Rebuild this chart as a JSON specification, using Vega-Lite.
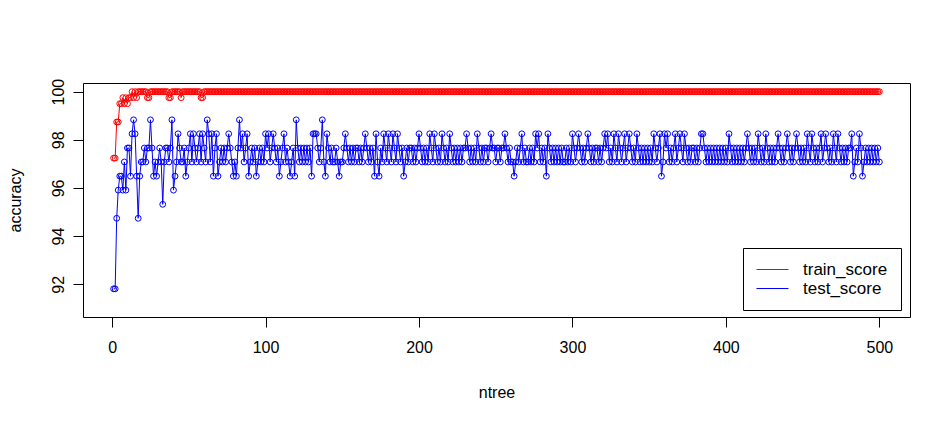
{
  "$schema": "https://vega.github.io/schema/vega-lite/v6.json",
  "width": 827,
  "height": 234,
  "autosize": "none",
  "padding": {"left": 83, "top": 83, "right": 42, "bottom": 104},
  "background": "white",
  "config": {
    "view": {"stroke": "black", "strokeWidth": 1},
    "font": "Liberation Sans",
    "axis": {
      "domain": false,
      "grid": false,
      "ticks": true,
      "tickSize": 10,
      "tickColor": "black",
      "tickWidth": 1,
      "labelFontSize": 16,
      "labelColor": "black",
      "titleFontSize": 16,
      "titleFontWeight": "normal",
      "titleColor": "black"
    }
  },
  "data": {
    "values": [
      {"ntree":1,"train_score":97.24,"test_score":91.81},
      {"ntree":2,"train_score":97.24,"test_score":91.81},
      {"ntree":3,"train_score":98.74,"test_score":94.74},
      {"ntree":4,"train_score":98.74,"test_score":95.91},
      {"ntree":5,"train_score":99.5,"test_score":96.49},
      {"ntree":6,"train_score":99.5,"test_score":96.49},
      {"ntree":7,"train_score":99.75,"test_score":95.91},
      {"ntree":8,"train_score":99.5,"test_score":97.08},
      {"ntree":9,"train_score":99.75,"test_score":95.91},
      {"ntree":10,"train_score":99.5,"test_score":97.66},
      {"ntree":11,"train_score":99.75,"test_score":97.66},
      {"ntree":12,"train_score":99.75,"test_score":96.49},
      {"ntree":13,"train_score":100,"test_score":98.25},
      {"ntree":14,"train_score":99.75,"test_score":98.83},
      {"ntree":15,"train_score":100,"test_score":98.25},
      {"ntree":16,"train_score":99.75,"test_score":96.49},
      {"ntree":17,"train_score":100,"test_score":94.74},
      {"ntree":18,"train_score":100,"test_score":96.49},
      {"ntree":19,"train_score":100,"test_score":97.08},
      {"ntree":20,"train_score":100,"test_score":97.08},
      {"ntree":21,"train_score":100,"test_score":97.66},
      {"ntree":22,"train_score":100,"test_score":97.08},
      {"ntree":23,"train_score":99.75,"test_score":97.66},
      {"ntree":24,"train_score":99.75,"test_score":97.66},
      {"ntree":25,"train_score":100,"test_score":98.83},
      {"ntree":26,"train_score":100,"test_score":97.66},
      {"ntree":27,"train_score":100,"test_score":96.49},
      {"ntree":28,"train_score":100,"test_score":97.08},
      {"ntree":29,"train_score":100,"test_score":96.49},
      {"ntree":30,"train_score":100,"test_score":97.08},
      {"ntree":31,"train_score":100,"test_score":97.66},
      {"ntree":32,"train_score":100,"test_score":97.08},
      {"ntree":33,"train_score":100,"test_score":95.32},
      {"ntree":34,"train_score":100,"test_score":97.08},
      {"ntree":35,"train_score":100,"test_score":97.66},
      {"ntree":36,"train_score":100,"test_score":97.66},
      {"ntree":37,"train_score":99.75,"test_score":97.08},
      {"ntree":38,"train_score":99.75,"test_score":97.66},
      {"ntree":39,"train_score":100,"test_score":98.83},
      {"ntree":40,"train_score":100,"test_score":95.91},
      {"ntree":41,"train_score":100,"test_score":96.49},
      {"ntree":42,"train_score":100,"test_score":97.08},
      {"ntree":43,"train_score":100,"test_score":98.25},
      {"ntree":44,"train_score":100,"test_score":97.66},
      {"ntree":45,"train_score":99.75,"test_score":97.08},
      {"ntree":46,"train_score":100,"test_score":97.08},
      {"ntree":47,"train_score":100,"test_score":97.66},
      {"ntree":48,"train_score":100,"test_score":96.49},
      {"ntree":49,"train_score":100,"test_score":97.08},
      {"ntree":50,"train_score":100,"test_score":97.66},
      {"ntree":51,"train_score":100,"test_score":98.25},
      {"ntree":52,"train_score":100,"test_score":97.08},
      {"ntree":53,"train_score":100,"test_score":98.25},
      {"ntree":54,"train_score":100,"test_score":97.66},
      {"ntree":55,"train_score":100,"test_score":97.08},
      {"ntree":56,"train_score":100,"test_score":97.66},
      {"ntree":57,"train_score":100,"test_score":98.25},
      {"ntree":58,"train_score":99.75,"test_score":97.08},
      {"ntree":59,"train_score":99.75,"test_score":98.25},
      {"ntree":60,"train_score":100,"test_score":97.66},
      {"ntree":61,"train_score":100,"test_score":97.08},
      {"ntree":62,"train_score":100,"test_score":98.83},
      {"ntree":63,"train_score":100,"test_score":98.25},
      {"ntree":64,"train_score":100,"test_score":97.08},
      {"ntree":65,"train_score":100,"test_score":98.25},
      {"ntree":66,"train_score":100,"test_score":96.49},
      {"ntree":67,"train_score":100,"test_score":97.66},
      {"ntree":68,"train_score":100,"test_score":98.25},
      {"ntree":69,"train_score":100,"test_score":96.49},
      {"ntree":70,"train_score":100,"test_score":97.08},
      {"ntree":71,"train_score":100,"test_score":97.66},
      {"ntree":72,"train_score":100,"test_score":97.08},
      {"ntree":73,"train_score":100,"test_score":97.66},
      {"ntree":74,"train_score":100,"test_score":97.08},
      {"ntree":75,"train_score":100,"test_score":97.66},
      {"ntree":76,"train_score":100,"test_score":98.25},
      {"ntree":77,"train_score":100,"test_score":97.66},
      {"ntree":78,"train_score":100,"test_score":97.08},
      {"ntree":79,"train_score":100,"test_score":96.49},
      {"ntree":80,"train_score":100,"test_score":97.08},
      {"ntree":81,"train_score":100,"test_score":96.49},
      {"ntree":82,"train_score":100,"test_score":97.66},
      {"ntree":83,"train_score":100,"test_score":98.83},
      {"ntree":84,"train_score":100,"test_score":97.66},
      {"ntree":85,"train_score":100,"test_score":98.25},
      {"ntree":86,"train_score":100,"test_score":97.08},
      {"ntree":87,"train_score":100,"test_score":97.66},
      {"ntree":88,"train_score":100,"test_score":98.25},
      {"ntree":89,"train_score":100,"test_score":96.49},
      {"ntree":90,"train_score":100,"test_score":97.08},
      {"ntree":91,"train_score":100,"test_score":97.66},
      {"ntree":92,"train_score":100,"test_score":97.08},
      {"ntree":93,"train_score":100,"test_score":97.66},
      {"ntree":94,"train_score":100,"test_score":96.49},
      {"ntree":95,"train_score":100,"test_score":97.08},
      {"ntree":96,"train_score":100,"test_score":97.66},
      {"ntree":97,"train_score":100,"test_score":97.08},
      {"ntree":98,"train_score":100,"test_score":97.66},
      {"ntree":99,"train_score":100,"test_score":97.08},
      {"ntree":100,"train_score":100,"test_score":98.25},
      {"ntree":101,"train_score":100,"test_score":97.66},
      {"ntree":102,"train_score":100,"test_score":98.25},
      {"ntree":103,"train_score":100,"test_score":97.08},
      {"ntree":104,"train_score":100,"test_score":97.66},
      {"ntree":105,"train_score":100,"test_score":98.25},
      {"ntree":106,"train_score":100,"test_score":97.66},
      {"ntree":107,"train_score":100,"test_score":97.08},
      {"ntree":108,"train_score":100,"test_score":97.66},
      {"ntree":109,"train_score":100,"test_score":96.49},
      {"ntree":110,"train_score":100,"test_score":97.08},
      {"ntree":111,"train_score":100,"test_score":97.66},
      {"ntree":112,"train_score":100,"test_score":98.25},
      {"ntree":113,"train_score":100,"test_score":97.08},
      {"ntree":114,"train_score":100,"test_score":97.66},
      {"ntree":115,"train_score":100,"test_score":97.08},
      {"ntree":116,"train_score":100,"test_score":96.49},
      {"ntree":117,"train_score":100,"test_score":97.08},
      {"ntree":118,"train_score":100,"test_score":97.66},
      {"ntree":119,"train_score":100,"test_score":96.49},
      {"ntree":120,"train_score":100,"test_score":98.83},
      {"ntree":121,"train_score":100,"test_score":97.66},
      {"ntree":122,"train_score":100,"test_score":97.08},
      {"ntree":123,"train_score":100,"test_score":97.66},
      {"ntree":124,"train_score":100,"test_score":97.08},
      {"ntree":125,"train_score":100,"test_score":97.66},
      {"ntree":126,"train_score":100,"test_score":97.08},
      {"ntree":127,"train_score":100,"test_score":97.66},
      {"ntree":128,"train_score":100,"test_score":97.08},
      {"ntree":129,"train_score":100,"test_score":97.66},
      {"ntree":130,"train_score":100,"test_score":96.49},
      {"ntree":131,"train_score":100,"test_score":98.25},
      {"ntree":132,"train_score":100,"test_score":98.25},
      {"ntree":133,"train_score":100,"test_score":98.25},
      {"ntree":134,"train_score":100,"test_score":97.66},
      {"ntree":135,"train_score":100,"test_score":97.08},
      {"ntree":136,"train_score":100,"test_score":97.66},
      {"ntree":137,"train_score":100,"test_score":98.83},
      {"ntree":138,"train_score":100,"test_score":97.08},
      {"ntree":139,"train_score":100,"test_score":96.49},
      {"ntree":140,"train_score":100,"test_score":98.25},
      {"ntree":141,"train_score":100,"test_score":97.66},
      {"ntree":142,"train_score":100,"test_score":97.08},
      {"ntree":143,"train_score":100,"test_score":97.66},
      {"ntree":144,"train_score":100,"test_score":97.08},
      {"ntree":145,"train_score":100,"test_score":97.08},
      {"ntree":146,"train_score":100,"test_score":97.66},
      {"ntree":147,"train_score":100,"test_score":97.08},
      {"ntree":148,"train_score":100,"test_score":96.49},
      {"ntree":149,"train_score":100,"test_score":97.08},
      {"ntree":150,"train_score":100,"test_score":97.08},
      {"ntree":151,"train_score":100,"test_score":97.66},
      {"ntree":152,"train_score":100,"test_score":98.25},
      {"ntree":153,"train_score":100,"test_score":97.66},
      {"ntree":154,"train_score":100,"test_score":97.08},
      {"ntree":155,"train_score":100,"test_score":97.66},
      {"ntree":156,"train_score":100,"test_score":97.08},
      {"ntree":157,"train_score":100,"test_score":97.66},
      {"ntree":158,"train_score":100,"test_score":97.08},
      {"ntree":159,"train_score":100,"test_score":97.66},
      {"ntree":160,"train_score":100,"test_score":97.66},
      {"ntree":161,"train_score":100,"test_score":97.08},
      {"ntree":162,"train_score":100,"test_score":97.66},
      {"ntree":163,"train_score":100,"test_score":97.08},
      {"ntree":164,"train_score":100,"test_score":97.66},
      {"ntree":165,"train_score":100,"test_score":98.25},
      {"ntree":166,"train_score":100,"test_score":97.66},
      {"ntree":167,"train_score":100,"test_score":97.08},
      {"ntree":168,"train_score":100,"test_score":97.66},
      {"ntree":169,"train_score":100,"test_score":97.08},
      {"ntree":170,"train_score":100,"test_score":97.66},
      {"ntree":171,"train_score":100,"test_score":96.49},
      {"ntree":172,"train_score":100,"test_score":98.25},
      {"ntree":173,"train_score":100,"test_score":97.08},
      {"ntree":174,"train_score":100,"test_score":96.49},
      {"ntree":175,"train_score":100,"test_score":97.66},
      {"ntree":176,"train_score":100,"test_score":97.08},
      {"ntree":177,"train_score":100,"test_score":98.25},
      {"ntree":178,"train_score":100,"test_score":97.66},
      {"ntree":179,"train_score":100,"test_score":97.08},
      {"ntree":180,"train_score":100,"test_score":98.25},
      {"ntree":181,"train_score":100,"test_score":97.66},
      {"ntree":182,"train_score":100,"test_score":97.08},
      {"ntree":183,"train_score":100,"test_score":98.25},
      {"ntree":184,"train_score":100,"test_score":97.66},
      {"ntree":185,"train_score":100,"test_score":97.08},
      {"ntree":186,"train_score":100,"test_score":98.25},
      {"ntree":187,"train_score":100,"test_score":97.66},
      {"ntree":188,"train_score":100,"test_score":97.08},
      {"ntree":189,"train_score":100,"test_score":97.66},
      {"ntree":190,"train_score":100,"test_score":96.49},
      {"ntree":191,"train_score":100,"test_score":97.08},
      {"ntree":192,"train_score":100,"test_score":97.66},
      {"ntree":193,"train_score":100,"test_score":97.08},
      {"ntree":194,"train_score":100,"test_score":97.66},
      {"ntree":195,"train_score":100,"test_score":97.66},
      {"ntree":196,"train_score":100,"test_score":97.08},
      {"ntree":197,"train_score":100,"test_score":97.66},
      {"ntree":198,"train_score":100,"test_score":97.08},
      {"ntree":199,"train_score":100,"test_score":97.66},
      {"ntree":200,"train_score":100,"test_score":98.25},
      {"ntree":201,"train_score":100,"test_score":97.66},
      {"ntree":202,"train_score":100,"test_score":97.08},
      {"ntree":203,"train_score":100,"test_score":97.66},
      {"ntree":204,"train_score":100,"test_score":97.08},
      {"ntree":205,"train_score":100,"test_score":97.66},
      {"ntree":206,"train_score":100,"test_score":97.08},
      {"ntree":207,"train_score":100,"test_score":98.25},
      {"ntree":208,"train_score":100,"test_score":97.66},
      {"ntree":209,"train_score":100,"test_score":97.08},
      {"ntree":210,"train_score":100,"test_score":98.25},
      {"ntree":211,"train_score":100,"test_score":97.66},
      {"ntree":212,"train_score":100,"test_score":97.08},
      {"ntree":213,"train_score":100,"test_score":97.66},
      {"ntree":214,"train_score":100,"test_score":97.08},
      {"ntree":215,"train_score":100,"test_score":98.25},
      {"ntree":216,"train_score":100,"test_score":97.66},
      {"ntree":217,"train_score":100,"test_score":97.08},
      {"ntree":218,"train_score":100,"test_score":97.66},
      {"ntree":219,"train_score":100,"test_score":97.08},
      {"ntree":220,"train_score":100,"test_score":98.25},
      {"ntree":221,"train_score":100,"test_score":97.66},
      {"ntree":222,"train_score":100,"test_score":97.08},
      {"ntree":223,"train_score":100,"test_score":97.66},
      {"ntree":224,"train_score":100,"test_score":97.08},
      {"ntree":225,"train_score":100,"test_score":97.66},
      {"ntree":226,"train_score":100,"test_score":97.08},
      {"ntree":227,"train_score":100,"test_score":97.66},
      {"ntree":228,"train_score":100,"test_score":97.08},
      {"ntree":229,"train_score":100,"test_score":97.66},
      {"ntree":230,"train_score":100,"test_score":97.66},
      {"ntree":231,"train_score":100,"test_score":98.25},
      {"ntree":232,"train_score":100,"test_score":97.66},
      {"ntree":233,"train_score":100,"test_score":97.08},
      {"ntree":234,"train_score":100,"test_score":97.66},
      {"ntree":235,"train_score":100,"test_score":97.08},
      {"ntree":236,"train_score":100,"test_score":97.66},
      {"ntree":237,"train_score":100,"test_score":97.08},
      {"ntree":238,"train_score":100,"test_score":98.25},
      {"ntree":239,"train_score":100,"test_score":97.66},
      {"ntree":240,"train_score":100,"test_score":97.08},
      {"ntree":241,"train_score":100,"test_score":97.66},
      {"ntree":242,"train_score":100,"test_score":97.08},
      {"ntree":243,"train_score":100,"test_score":97.66},
      {"ntree":244,"train_score":100,"test_score":97.66},
      {"ntree":245,"train_score":100,"test_score":97.08},
      {"ntree":246,"train_score":100,"test_score":97.66},
      {"ntree":247,"train_score":100,"test_score":98.25},
      {"ntree":248,"train_score":100,"test_score":97.66},
      {"ntree":249,"train_score":100,"test_score":97.66},
      {"ntree":250,"train_score":100,"test_score":97.08},
      {"ntree":251,"train_score":100,"test_score":97.66},
      {"ntree":252,"train_score":100,"test_score":97.66},
      {"ntree":253,"train_score":100,"test_score":97.08},
      {"ntree":254,"train_score":100,"test_score":97.66},
      {"ntree":255,"train_score":100,"test_score":97.66},
      {"ntree":256,"train_score":100,"test_score":98.25},
      {"ntree":257,"train_score":100,"test_score":97.66},
      {"ntree":258,"train_score":100,"test_score":97.08},
      {"ntree":259,"train_score":100,"test_score":97.66},
      {"ntree":260,"train_score":100,"test_score":97.08},
      {"ntree":261,"train_score":100,"test_score":97.08},
      {"ntree":262,"train_score":100,"test_score":96.49},
      {"ntree":263,"train_score":100,"test_score":97.08},
      {"ntree":264,"train_score":100,"test_score":97.66},
      {"ntree":265,"train_score":100,"test_score":97.08},
      {"ntree":266,"train_score":100,"test_score":97.66},
      {"ntree":267,"train_score":100,"test_score":98.25},
      {"ntree":268,"train_score":100,"test_score":97.08},
      {"ntree":269,"train_score":100,"test_score":97.66},
      {"ntree":270,"train_score":100,"test_score":97.08},
      {"ntree":271,"train_score":100,"test_score":97.08},
      {"ntree":272,"train_score":100,"test_score":97.66},
      {"ntree":273,"train_score":100,"test_score":97.08},
      {"ntree":274,"train_score":100,"test_score":97.66},
      {"ntree":275,"train_score":100,"test_score":97.08},
      {"ntree":276,"train_score":100,"test_score":98.25},
      {"ntree":277,"train_score":100,"test_score":97.66},
      {"ntree":278,"train_score":100,"test_score":98.25},
      {"ntree":279,"train_score":100,"test_score":97.08},
      {"ntree":280,"train_score":100,"test_score":97.66},
      {"ntree":281,"train_score":100,"test_score":97.08},
      {"ntree":282,"train_score":100,"test_score":97.66},
      {"ntree":283,"train_score":100,"test_score":96.49},
      {"ntree":284,"train_score":100,"test_score":98.25},
      {"ntree":285,"train_score":100,"test_score":97.66},
      {"ntree":286,"train_score":100,"test_score":97.08},
      {"ntree":287,"train_score":100,"test_score":97.66},
      {"ntree":288,"train_score":100,"test_score":97.08},
      {"ntree":289,"train_score":100,"test_score":97.66},
      {"ntree":290,"train_score":100,"test_score":97.08},
      {"ntree":291,"train_score":100,"test_score":97.66},
      {"ntree":292,"train_score":100,"test_score":97.08},
      {"ntree":293,"train_score":100,"test_score":97.66},
      {"ntree":294,"train_score":100,"test_score":97.08},
      {"ntree":295,"train_score":100,"test_score":97.08},
      {"ntree":296,"train_score":100,"test_score":97.66},
      {"ntree":297,"train_score":100,"test_score":97.08},
      {"ntree":298,"train_score":100,"test_score":97.66},
      {"ntree":299,"train_score":100,"test_score":97.08},
      {"ntree":300,"train_score":100,"test_score":98.25},
      {"ntree":301,"train_score":100,"test_score":97.66},
      {"ntree":302,"train_score":100,"test_score":97.08},
      {"ntree":303,"train_score":100,"test_score":97.66},
      {"ntree":304,"train_score":100,"test_score":98.25},
      {"ntree":305,"train_score":100,"test_score":97.66},
      {"ntree":306,"train_score":100,"test_score":97.08},
      {"ntree":307,"train_score":100,"test_score":97.66},
      {"ntree":308,"train_score":100,"test_score":97.08},
      {"ntree":309,"train_score":100,"test_score":97.66},
      {"ntree":310,"train_score":100,"test_score":98.25},
      {"ntree":311,"train_score":100,"test_score":97.66},
      {"ntree":312,"train_score":100,"test_score":97.08},
      {"ntree":313,"train_score":100,"test_score":97.66},
      {"ntree":314,"train_score":100,"test_score":97.08},
      {"ntree":315,"train_score":100,"test_score":97.66},
      {"ntree":316,"train_score":100,"test_score":97.66},
      {"ntree":317,"train_score":100,"test_score":97.08},
      {"ntree":318,"train_score":100,"test_score":97.66},
      {"ntree":319,"train_score":100,"test_score":97.08},
      {"ntree":320,"train_score":100,"test_score":97.66},
      {"ntree":321,"train_score":100,"test_score":98.25},
      {"ntree":322,"train_score":100,"test_score":97.66},
      {"ntree":323,"train_score":100,"test_score":98.25},
      {"ntree":324,"train_score":100,"test_score":97.08},
      {"ntree":325,"train_score":100,"test_score":97.66},
      {"ntree":326,"train_score":100,"test_score":97.08},
      {"ntree":327,"train_score":100,"test_score":98.25},
      {"ntree":328,"train_score":100,"test_score":97.66},
      {"ntree":329,"train_score":100,"test_score":97.08},
      {"ntree":330,"train_score":100,"test_score":98.25},
      {"ntree":331,"train_score":100,"test_score":97.66},
      {"ntree":332,"train_score":100,"test_score":97.08},
      {"ntree":333,"train_score":100,"test_score":97.66},
      {"ntree":334,"train_score":100,"test_score":98.25},
      {"ntree":335,"train_score":100,"test_score":97.08},
      {"ntree":336,"train_score":100,"test_score":97.66},
      {"ntree":337,"train_score":100,"test_score":98.25},
      {"ntree":338,"train_score":100,"test_score":97.66},
      {"ntree":339,"train_score":100,"test_score":97.08},
      {"ntree":340,"train_score":100,"test_score":97.66},
      {"ntree":341,"train_score":100,"test_score":97.08},
      {"ntree":342,"train_score":100,"test_score":98.25},
      {"ntree":343,"train_score":100,"test_score":97.66},
      {"ntree":344,"train_score":100,"test_score":97.08},
      {"ntree":345,"train_score":100,"test_score":97.66},
      {"ntree":346,"train_score":100,"test_score":97.08},
      {"ntree":347,"train_score":100,"test_score":97.66},
      {"ntree":348,"train_score":100,"test_score":97.08},
      {"ntree":349,"train_score":100,"test_score":97.66},
      {"ntree":350,"train_score":100,"test_score":97.08},
      {"ntree":351,"train_score":100,"test_score":97.66},
      {"ntree":352,"train_score":100,"test_score":97.08},
      {"ntree":353,"train_score":100,"test_score":98.25},
      {"ntree":354,"train_score":100,"test_score":97.66},
      {"ntree":355,"train_score":100,"test_score":97.08},
      {"ntree":356,"train_score":100,"test_score":97.66},
      {"ntree":357,"train_score":100,"test_score":98.25},
      {"ntree":358,"train_score":100,"test_score":96.49},
      {"ntree":359,"train_score":100,"test_score":97.08},
      {"ntree":360,"train_score":100,"test_score":98.25},
      {"ntree":361,"train_score":100,"test_score":97.66},
      {"ntree":362,"train_score":100,"test_score":98.25},
      {"ntree":363,"train_score":100,"test_score":97.08},
      {"ntree":364,"train_score":100,"test_score":97.66},
      {"ntree":365,"train_score":100,"test_score":97.08},
      {"ntree":366,"train_score":100,"test_score":97.66},
      {"ntree":367,"train_score":100,"test_score":98.25},
      {"ntree":368,"train_score":100,"test_score":97.08},
      {"ntree":369,"train_score":100,"test_score":97.66},
      {"ntree":370,"train_score":100,"test_score":98.25},
      {"ntree":371,"train_score":100,"test_score":97.66},
      {"ntree":372,"train_score":100,"test_score":97.08},
      {"ntree":373,"train_score":100,"test_score":98.25},
      {"ntree":374,"train_score":100,"test_score":97.66},
      {"ntree":375,"train_score":100,"test_score":97.08},
      {"ntree":376,"train_score":100,"test_score":97.66},
      {"ntree":377,"train_score":100,"test_score":97.08},
      {"ntree":378,"train_score":100,"test_score":97.66},
      {"ntree":379,"train_score":100,"test_score":97.66},
      {"ntree":380,"train_score":100,"test_score":97.08},
      {"ntree":381,"train_score":100,"test_score":97.66},
      {"ntree":382,"train_score":100,"test_score":97.08},
      {"ntree":383,"train_score":100,"test_score":97.66},
      {"ntree":384,"train_score":100,"test_score":98.25},
      {"ntree":385,"train_score":100,"test_score":98.25},
      {"ntree":386,"train_score":100,"test_score":97.66},
      {"ntree":387,"train_score":100,"test_score":97.08},
      {"ntree":388,"train_score":100,"test_score":97.66},
      {"ntree":389,"train_score":100,"test_score":97.08},
      {"ntree":390,"train_score":100,"test_score":97.66},
      {"ntree":391,"train_score":100,"test_score":97.08},
      {"ntree":392,"train_score":100,"test_score":97.66},
      {"ntree":393,"train_score":100,"test_score":97.08},
      {"ntree":394,"train_score":100,"test_score":97.66},
      {"ntree":395,"train_score":100,"test_score":97.08},
      {"ntree":396,"train_score":100,"test_score":97.66},
      {"ntree":397,"train_score":100,"test_score":97.08},
      {"ntree":398,"train_score":100,"test_score":97.66},
      {"ntree":399,"train_score":100,"test_score":97.08},
      {"ntree":400,"train_score":100,"test_score":97.66},
      {"ntree":401,"train_score":100,"test_score":97.08},
      {"ntree":402,"train_score":100,"test_score":98.25},
      {"ntree":403,"train_score":100,"test_score":97.66},
      {"ntree":404,"train_score":100,"test_score":97.08},
      {"ntree":405,"train_score":100,"test_score":97.66},
      {"ntree":406,"train_score":100,"test_score":97.08},
      {"ntree":407,"train_score":100,"test_score":97.66},
      {"ntree":408,"train_score":100,"test_score":97.08},
      {"ntree":409,"train_score":100,"test_score":97.66},
      {"ntree":410,"train_score":100,"test_score":97.08},
      {"ntree":411,"train_score":100,"test_score":97.66},
      {"ntree":412,"train_score":100,"test_score":97.08},
      {"ntree":413,"train_score":100,"test_score":97.66},
      {"ntree":414,"train_score":100,"test_score":98.25},
      {"ntree":415,"train_score":100,"test_score":97.66},
      {"ntree":416,"train_score":100,"test_score":97.08},
      {"ntree":417,"train_score":100,"test_score":97.66},
      {"ntree":418,"train_score":100,"test_score":97.08},
      {"ntree":419,"train_score":100,"test_score":97.66},
      {"ntree":420,"train_score":100,"test_score":97.08},
      {"ntree":421,"train_score":100,"test_score":98.25},
      {"ntree":422,"train_score":100,"test_score":97.66},
      {"ntree":423,"train_score":100,"test_score":97.08},
      {"ntree":424,"train_score":100,"test_score":97.66},
      {"ntree":425,"train_score":100,"test_score":97.08},
      {"ntree":426,"train_score":100,"test_score":98.25},
      {"ntree":427,"train_score":100,"test_score":97.66},
      {"ntree":428,"train_score":100,"test_score":97.08},
      {"ntree":429,"train_score":100,"test_score":97.66},
      {"ntree":430,"train_score":100,"test_score":97.08},
      {"ntree":431,"train_score":100,"test_score":97.66},
      {"ntree":432,"train_score":100,"test_score":97.08},
      {"ntree":433,"train_score":100,"test_score":97.66},
      {"ntree":434,"train_score":100,"test_score":98.25},
      {"ntree":435,"train_score":100,"test_score":97.66},
      {"ntree":436,"train_score":100,"test_score":97.08},
      {"ntree":437,"train_score":100,"test_score":97.66},
      {"ntree":438,"train_score":100,"test_score":97.08},
      {"ntree":439,"train_score":100,"test_score":97.66},
      {"ntree":440,"train_score":100,"test_score":98.25},
      {"ntree":441,"train_score":100,"test_score":97.66},
      {"ntree":442,"train_score":100,"test_score":97.08},
      {"ntree":443,"train_score":100,"test_score":97.66},
      {"ntree":444,"train_score":100,"test_score":97.08},
      {"ntree":445,"train_score":100,"test_score":97.66},
      {"ntree":446,"train_score":100,"test_score":98.25},
      {"ntree":447,"train_score":100,"test_score":97.66},
      {"ntree":448,"train_score":100,"test_score":97.08},
      {"ntree":449,"train_score":100,"test_score":97.66},
      {"ntree":450,"train_score":100,"test_score":97.08},
      {"ntree":451,"train_score":100,"test_score":97.66},
      {"ntree":452,"train_score":100,"test_score":97.08},
      {"ntree":453,"train_score":100,"test_score":98.25},
      {"ntree":454,"train_score":100,"test_score":97.66},
      {"ntree":455,"train_score":100,"test_score":97.08},
      {"ntree":456,"train_score":100,"test_score":98.25},
      {"ntree":457,"train_score":100,"test_score":97.66},
      {"ntree":458,"train_score":100,"test_score":97.08},
      {"ntree":459,"train_score":100,"test_score":97.66},
      {"ntree":460,"train_score":100,"test_score":97.08},
      {"ntree":461,"train_score":100,"test_score":97.66},
      {"ntree":462,"train_score":100,"test_score":98.25},
      {"ntree":463,"train_score":100,"test_score":97.08},
      {"ntree":464,"train_score":100,"test_score":97.66},
      {"ntree":465,"train_score":100,"test_score":98.25},
      {"ntree":466,"train_score":100,"test_score":97.66},
      {"ntree":467,"train_score":100,"test_score":97.08},
      {"ntree":468,"train_score":100,"test_score":97.66},
      {"ntree":469,"train_score":100,"test_score":97.08},
      {"ntree":470,"train_score":100,"test_score":98.25},
      {"ntree":471,"train_score":100,"test_score":97.66},
      {"ntree":472,"train_score":100,"test_score":97.08},
      {"ntree":473,"train_score":100,"test_score":98.25},
      {"ntree":474,"train_score":100,"test_score":97.66},
      {"ntree":475,"train_score":100,"test_score":97.08},
      {"ntree":476,"train_score":100,"test_score":97.66},
      {"ntree":477,"train_score":100,"test_score":97.08},
      {"ntree":478,"train_score":100,"test_score":97.66},
      {"ntree":479,"train_score":100,"test_score":97.08},
      {"ntree":480,"train_score":100,"test_score":97.66},
      {"ntree":481,"train_score":100,"test_score":97.66},
      {"ntree":482,"train_score":100,"test_score":98.25},
      {"ntree":483,"train_score":100,"test_score":96.49},
      {"ntree":484,"train_score":100,"test_score":97.08},
      {"ntree":485,"train_score":100,"test_score":97.66},
      {"ntree":486,"train_score":100,"test_score":97.08},
      {"ntree":487,"train_score":100,"test_score":98.25},
      {"ntree":488,"train_score":100,"test_score":97.66},
      {"ntree":489,"train_score":100,"test_score":96.49},
      {"ntree":490,"train_score":100,"test_score":97.08},
      {"ntree":491,"train_score":100,"test_score":97.66},
      {"ntree":492,"train_score":100,"test_score":97.08},
      {"ntree":493,"train_score":100,"test_score":97.66},
      {"ntree":494,"train_score":100,"test_score":97.08},
      {"ntree":495,"train_score":100,"test_score":97.66},
      {"ntree":496,"train_score":100,"test_score":97.08},
      {"ntree":497,"train_score":100,"test_score":97.66},
      {"ntree":498,"train_score":100,"test_score":97.08},
      {"ntree":499,"train_score":100,"test_score":97.66},
      {"ntree":500,"train_score":100,"test_score":97.08}
    ]
  },
  "transform": [
    {"fold": ["train_score", "test_score"], "as": ["series", "accuracy"]}
  ],
  "mark": {
    "type": "line",
    "strokeWidth": 1,
    "point": {"filled": false, "size": 34, "strokeWidth": 1}
  },
  "encoding": {
    "x": {
      "field": "ntree",
      "type": "quantitative",
      "scale": {"domain": [-18.96, 519.96], "nice": false, "zero": false},
      "axis": {
        "values": [0, 100, 200, 300, 400, 500],
        "format": "d",
        "labelPadding": 12,
        "title": "ntree",
        "titlePadding": 29
      }
    },
    "y": {
      "field": "accuracy",
      "type": "quantitative",
      "scale": {"domain": [90.64, 100.36], "nice": false, "zero": false},
      "axis": {
        "values": [92, 94, 96, 98, 100],
        "format": "d",
        "labelAngle": -90,
        "labelAlign": "center",
        "labelBaseline": "alphabetic",
        "labelPadding": 10,
        "title": "accuracy",
        "titlePadding": 27
      }
    },
    "color": {
      "field": "series",
      "type": "nominal",
      "scale": {"domain": ["train_score", "test_score"], "range": ["#FF0000", "#0000FF"]},
      "legend": {
        "title": null,
        "orient": "none",
        "legendX": 660,
        "legendY": 165,
        "symbolType": "M-1,0H3",
        "symbolSize": 256,
        "symbolStrokeWidth": 1,
        "symbolFillColor": "transparent",
        "labelFontSize": 17,
        "labelColor": "black",
        "labelOffset": 30,
        "padding": 13,
        "rowPadding": 1,
        "strokeColor": "black",
        "fillColor": "white",
        "cornerRadius": 0
      }
    }
  }
}
